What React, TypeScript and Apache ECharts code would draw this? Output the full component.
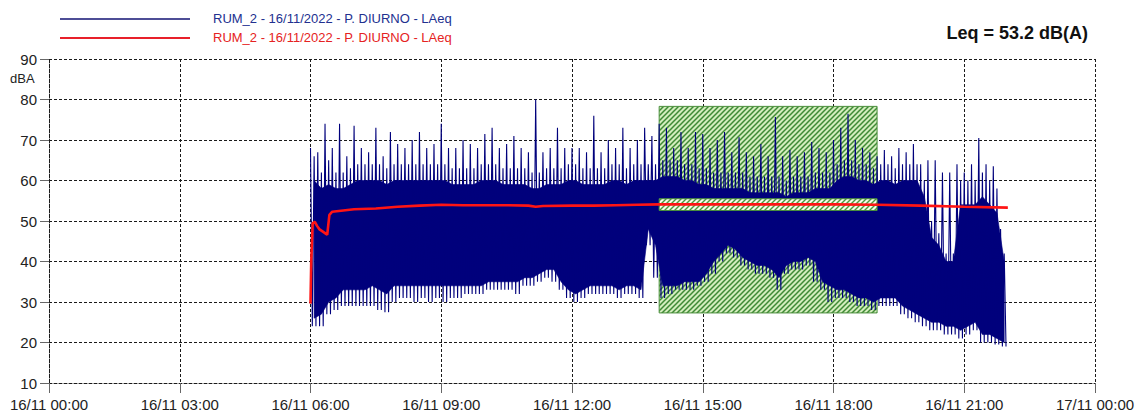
import React, { useEffect, useRef } from "react";
import * as echarts from "echarts";

// ---------- data ----------
const seriesName = "RUM_2 - 16/11/2022 - P. DIURNO - LAeq";
const leqText = "Leq = 53.2 dB(A)";
const yUnit = "dBA";
const xTickLabels = [
  "16/11 00:00", "16/11 03:00", "16/11 06:00", "16/11 09:00", "16/11 12:00",
  "16/11 15:00", "16/11 18:00", "16/11 21:00", "17/11 00:00",
];

// blue LAeq: one slot every 10 minutes from 06:00
// peak = highest spike, grass = ragged top, core = top of the solid part,
// lo = bottom of the solid part, dip = lowest spikes
const blueStart = "06:00";
const slotMinutes = 10;
const bluePeak = [
  68, 67, 74, 68, 74, 66, 73.5, 68, 67, 73, 66, 72, 69, 68, 70, 72, 68, 69, 74, 68,
  68, 70, 69, 68, 71.5, 73, 68, 69, 71, 68, 67, 80, 67, 68, 73, 68, 68, 68, 67, 76,
  67, 70, 68, 73, 68, 70, 73, 71, 74, 73, 68, 72, 68, 72, 71.5, 68, 70, 72, 67, 70.7,
  67, 66, 69, 66, 75.7, 66, 67.5, 66, 67, 69.5, 68, 67, 70, 73, 76.5, 70, 68, 67, 66, 67.5,
  66, 68, 67, 69, 64, 65, 65, 62, 62, 64, 62, 64, 70.5, 64, 63.5, 48,
];
const blueGrass = [
  66, 62, 65, 62, 62, 63, 64, 64, 64, 64, 63, 64, 64, 64, 64, 64, 64, 64, 64, 63,
  63, 63, 63, 64, 64, 64, 63, 63, 63, 63, 62, 62, 63, 63, 63, 64, 64, 63, 63, 63,
  63, 64, 64, 63, 64, 64, 64, 64, 65, 65, 65, 64, 64, 63, 63, 62, 62, 62, 62, 62,
  61, 61, 61, 61, 61, 60, 61, 61, 61, 62, 62, 62, 64, 65, 65, 64, 64, 63, 64, 64,
  63, 64, 64, 64, 60, 50, 47, 42, 42, 60, 60, 60, 62, 60, 58, 42,
];
const blueCore = [
  60, 58, 59, 58, 58, 59, 60, 60, 60, 60, 59, 60, 60, 60, 60, 60, 60, 60, 60, 59,
  59, 59, 59, 60, 60, 60, 59, 59, 59, 59, 58, 58, 59, 59, 59, 60, 60, 59, 59, 59,
  59, 60, 60, 59, 60, 60, 60, 60, 61, 61, 61, 60, 60, 59, 59, 58, 58, 58, 58, 58,
  57, 57, 57, 57, 57, 56, 57, 57, 57, 58, 58, 58, 60, 61, 61, 60, 60, 59, 60, 60,
  59, 60, 60, 60, 56, 46, 44, 40, 40, 54, 54, 54, 56, 54, 52, 40,
];
const blueLo = [
  26, 27, 30, 31, 33, 33, 33, 33, 34, 33, 32, 34, 34, 34, 34, 34, 34, 34, 34, 34,
  34, 34, 34, 34, 35, 35, 35, 35, 35, 36, 36, 37, 38, 38, 35, 33, 32, 33, 34, 34,
  34, 34, 33, 34, 34, 33, 48, 44, 34, 34, 34, 35, 35, 35, 37, 40, 42, 44, 43, 41,
  40, 39, 39, 38, 36, 39, 40, 40, 41, 40, 35, 34, 33, 33, 32, 31, 31, 30, 31, 31,
  31, 29, 28, 27, 26, 25, 25, 24, 24, 23, 24, 25, 22, 22, 21, 20,
];
const blueDip = [
  24, 24, 27, 28, 29, 29, 29, 29, 29, 28, 27.5, 30, 31, 31, 30, 31, 30, 31, 30, 31,
  31, 32, 32, 32, 33, 33, 33, 33, 32, 34, 34, 35, 36, 35, 33, 31, 30, 31, 32, 32,
  32, 32, 31, 32, 32, 31, 44, 36, 31, 32, 33, 33, 33, 34, 35, 37, 40, 42, 41, 39,
  38, 37, 37, 36, 33, 37, 38, 38, 39, 35, 33, 30, 31, 31, 30, 29, 29, 28, 29, 29,
  29, 27, 26, 25, 24, 23, 23, 22, 22, 21, 22, 23, 20, 20, 19.5, 19,
];

// red running Leq
const redTimes = [
  "06:00", "06:01", "06:03", "06:06", "06:09", "06:12", "06:16", "06:20", "06:23", "06:26",
  "06:30", "06:45", "07:00", "07:30", "08:00", "08:30", "09:00", "09:30", "10:00", "10:30",
  "11:00", "11:10", "11:20", "12:00", "12:30", "13:00", "13:30", "14:00", "15:00", "16:00",
  "17:00", "18:00", "19:00", "20:00", "21:00", "22:00",
];
const redValues = [
  29.6, 40, 49.5, 49.8, 48.8, 48.0, 47.5, 47.0, 46.6, 51.5,
  52.3, 52.6, 52.9, 53.1, 53.5, 53.8, 54.0, 53.9, 53.9, 53.9,
  53.8, 53.5, 53.7, 53.8, 53.8, 53.9, 54.0, 54.1, 54.1, 54.1,
  54.1, 54.1, 54.0, 53.8, 53.5, 53.3,
];

// hatched period
const hatchPeriod = ["14:00", "19:00"];
const hatchRange = [27.3, 78.3];
const hatchBand = [52.6, 55.5];

// ---------- helpers ----------
const toMin = (s: string) => {
  const [h, m] = s.split(":").map(Number);
  return h * 60 + m;
};

function makeHatch(bg: string, fg: string, size: number, lw: number) {
  const c = document.createElement("canvas");
  c.width = size;
  c.height = size;
  const ctx = c.getContext("2d")!;
  ctx.fillStyle = bg;
  ctx.fillRect(0, 0, size, size);
  ctx.strokeStyle = fg;
  ctx.lineWidth = lw;
  ctx.beginPath();
  ctx.moveTo(-1, size + 1);
  ctx.lineTo(size + 1, -1);
  ctx.moveTo(-1, 1);
  ctx.lineTo(1, -1);
  ctx.moveTo(size - 1, size + 1);
  ctx.lineTo(size + 1, size - 1);
  ctx.stroke();
  return c;
}

const NAVY = "#00007c";

export default function App() {
  const ref = useRef<HTMLDivElement>(null);

  useEffect(() => {
    if (!ref.current) return;
    const chart = echarts.init(ref.current, undefined, { renderer: "svg" });

    const t0 = toMin(blueStart);
    const blueData: number[][] = [];
    const bodyRows: number[][] = [];
    for (let i = 0; i < bluePeak.length; i++) {
      const t = t0 + i * slotMinutes;
      blueData.push([t, bluePeak[i]]);
      blueData.push([t + slotMinutes * 0.25, blueDip[i]]);
      blueData.push([t + slotMinutes * 0.5, blueGrass[i]]);
      blueData.push([t + slotMinutes * 0.75, blueDip[i]]);
      bodyRows.push([t + slotMinutes * 0.5, blueLo[i], blueCore[i]]);
    }
    const redData = redTimes.map((t, i) => [toMin(t), redValues[i]]);

    const outerPattern = makeHatch("#d3edbd", "#3f8a35", 5, 1.5);
    const bandPattern = makeHatch("#f6fbe9", "#4d9a3e", 5, 1.4);

    const rectItem = (pattern: any) => (params: any, api: any) => {
      const p0 = api.coord([api.value(0), api.value(3)]);
      const p1 = api.coord([api.value(1), api.value(2)]);
      return {
        type: "rect",
        shape: { x: p0[0], y: p0[1], width: p1[0] - p0[0], height: p1[1] - p0[1] },
        style: { fill: { image: pattern, repeat: "repeat" }, stroke: "#4a8f3c", lineWidth: 1 },
      };
    };

    const bodyItem = (params: any, api: any) => {
      if (params.dataIndex !== 0) return null;
      const top = bodyRows.map((r) => api.coord([r[0], r[2]]));
      const bottom = bodyRows.map((r) => api.coord([r[0], r[1]])).reverse();
      return {
        type: "polygon",
        shape: { points: top.concat(bottom) },
        style: { fill: NAVY, stroke: NAVY, lineWidth: 0.6 },
      };
    };

    const font = "'Liberation Sans', Arial, sans-serif";
    const dashed = { color: "#1a1a1a", width: 1, type: [3, 2] as any };

    chart.setOption({
      animation: false,
      backgroundColor: "#ffffff",
      grid: { left: 49, right: 45, top: 59, bottom: 29, containLabel: false },
      xAxis: {
        type: "value",
        min: 0,
        max: 1440,
        interval: 180,
        axisLine: { show: true, lineStyle: dashed },
        axisTick: { show: true, length: 10, lineStyle: { color: "#666" } },
        axisLabel: {
          margin: 14,
          fontSize: 15,
          fontFamily: font,
          color: "#222",
          formatter: (v: number) => xTickLabels[Math.round(v / 180)] ?? "",
        },
        splitLine: { show: true, lineStyle: dashed },
      },
      yAxis: {
        type: "value",
        min: 10,
        max: 90,
        interval: 10,
        axisLine: { show: true, lineStyle: dashed },
        axisTick: { show: true, length: 9, lineStyle: { color: "#666" } },
        axisLabel: { margin: 12, fontSize: 15, fontFamily: font, color: "#222" },
        splitLine: { show: true, lineStyle: dashed },
      },
      graphic: [
        { type: "line", shape: { x1: 60, y1: 19, x2: 190, y2: 19 }, style: { stroke: "#4d4d96", lineWidth: 2 } },
        { type: "line", shape: { x1: 60, y1: 38, x2: 190, y2: 38 }, style: { stroke: "#e8202a", lineWidth: 2 } },
        {
          type: "text", x: 213, y: 18,
          style: { text: seriesName, fill: "#22308f", font: `13px ${font}`, textVerticalAlign: "middle" },
        },
        {
          type: "text", x: 213, y: 37,
          style: { text: seriesName, fill: "#e52222", font: `13px ${font}`, textVerticalAlign: "middle" },
        },
        {
          type: "text", x: 1088, y: 33,
          style: { text: leqText, fill: "#111", font: `bold 18px ${font}`, textAlign: "right", textVerticalAlign: "middle" },
        },
        {
          type: "text", x: 10, y: 78,
          style: { text: yUnit, fill: "#222", font: `13px ${font}`, textVerticalAlign: "middle" },
        },
      ],
      series: [
        {
          type: "custom",
          z: 1,
          silent: true,
          renderItem: rectItem(outerPattern),
          encode: { x: [0, 1], y: [2, 3] },
          data: [[toMin(hatchPeriod[0]), toMin(hatchPeriod[1]), hatchRange[0], hatchRange[1]]],
        },
        {
          type: "custom",
          z: 2,
          silent: true,
          renderItem: bodyItem,
          encode: { x: 0, y: [1, 2] },
          data: bodyRows,
        },
        {
          type: "line",
          name: seriesName,
          z: 2,
          data: blueData,
          showSymbol: false,
          symbol: "none",
          lineStyle: { color: NAVY, width: 1.1 },
        },
        {
          type: "custom",
          z: 3,
          silent: true,
          renderItem: rectItem(bandPattern),
          encode: { x: [0, 1], y: [2, 3] },
          data: [[toMin(hatchPeriod[0]), toMin(hatchPeriod[1]), hatchBand[0], hatchBand[1]]],
        },
        {
          type: "line",
          name: seriesName + " ",
          z: 4,
          data: redData,
          showSymbol: false,
          symbol: "none",
          lineStyle: { color: "#ff1414", width: 2.6 },
        },
      ],
    });

    return () => chart.dispose();
  }, []);

  return (
    <div
      ref={ref}
      style={{ position: "absolute", left: 0, top: 0, width: 1140, height: 412, background: "#fff" }}
    />
  );
}
